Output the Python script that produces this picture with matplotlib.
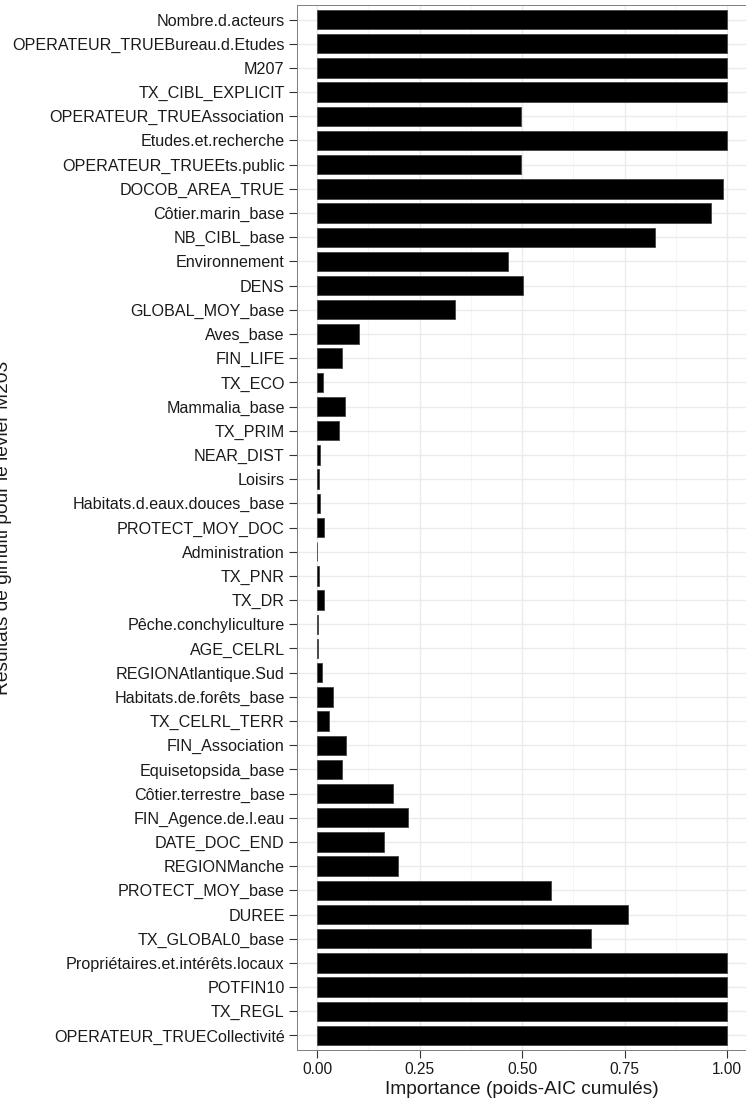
import matplotlib
matplotlib.use("Agg")
import matplotlib.pyplot as plt
from matplotlib.ticker import MultipleLocator

plt.rcParams['font.family'] = ['Liberation Sans', 'DejaVu Sans']

variables = [
    "Nombre.d.acteurs", "OPERATEUR_TRUEBureau.d.Etudes", "M207", "TX_CIBL_EXPLICIT",
    "OPERATEUR_TRUEAssociation", "Etudes.et.recherche", "OPERATEUR_TRUEEts.public",
    "DOCOB_AREA_TRUE", "Côtier.marin_base", "NB_CIBL_base", "Environnement", "DENS",
    "GLOBAL_MOY_base", "Aves_base", "FIN_LIFE", "TX_ECO", "Mammalia_base", "TX_PRIM",
    "NEAR_DIST", "Loisirs", "Habitats.d.eaux.douces_base", "PROTECT_MOY_DOC",
    "Administration", "TX_PNR", "TX_DR", "Pêche.conchyliculture", "AGE_CELRL",
    "REGIONAtlantique.Sud", "Habitats.de.forêts_base", "TX_CELRL_TERR", "FIN_Association",
    "Equisetopsida_base", "Côtier.terrestre_base", "FIN_Agence.de.l.eau", "DATE_DOC_END",
    "REGIONManche", "PROTECT_MOY_base", "DUREE", "TX_GLOBAL0_base",
    "Propriétaires.et.intérêts.locaux", "POTFIN10", "TX_REGL", "OPERATEUR_TRUECollectivité",
]
importance = [
    1.00, 1.00, 1.00, 1.00,
    0.497, 1.00, 0.497,
    0.99, 0.96, 0.824, 0.466, 0.502,
    0.337, 0.102, 0.061, 0.015, 0.068, 0.054,
    0.007, 0.004, 0.007, 0.017,
    0.001, 0.004, 0.017, 0.003, 0.003,
    0.013, 0.040, 0.030, 0.070,
    0.060, 0.185, 0.222, 0.163,
    0.198, 0.571, 0.759, 0.668,
    1.00, 1.00, 1.00, 1.00,
]
x_ticks = [0.00, 0.25, 0.50, 0.75, 1.00]
x_tick_labels = ["0.00", "0.25", "0.50", "0.75", "1.00"]
x_label = "Importance (poids-AIC cumulés)"
y_label = "Résultats de glmulti pour le levier M203"

W, H = 746, 1108
fig = plt.figure(figsize=(W / 100, H / 100), dpi=100)
left, right, top, bottom = 296.5, 747.8, 5, 1050
ax = fig.add_axes([left / W, (H - bottom) / H, (right - left) / W, (bottom - top) / H])

n = len(variables)
pos = list(range(1, n + 1))
ax.barh(pos, importance, height=0.8, color='black', edgecolor='#444444', linewidth=0.6, zorder=3)

ax.set_ylim(n + 0.6, 0.4)
ax.set_xlim(-0.05, 1.05)
ax.set_yticks(pos)
ax.set_yticklabels(variables)
ax.set_xticks(x_ticks)
ax.set_xticklabels(x_tick_labels)
ax.xaxis.set_minor_locator(MultipleLocator(0.125))

ax.grid(True, which='major', axis='both', color='#ebebeb', linewidth=1.0, zorder=0)
ax.grid(True, which='minor', axis='x', color='#f4f4f4', linewidth=0.6, zorder=0)
ax.set_axisbelow(True)

for s in ax.spines.values():
    s.set_color('#7f7f7f')
    s.set_linewidth(0.7)

ax.tick_params(axis='both', which='major', length=5.5, width=0.8, color='#333333',
               labelcolor='#1a1a1a', pad=3)
ax.tick_params(axis='y', which='major', labelsize=11.65)
ax.tick_params(axis='x', which='major', labelsize=11.2)
ax.tick_params(axis='x', which='minor', length=0)

ax.set_xlabel(x_label, fontsize=13.8, color='#1a1a1a', labelpad=3)
fig.text(3.5 / W, 1 - 527.5 / H, y_label, rotation=90, ha='center', va='center',
         fontsize=13.8, color='#1a1a1a')

fig.savefig("out.png", dpi=100)
